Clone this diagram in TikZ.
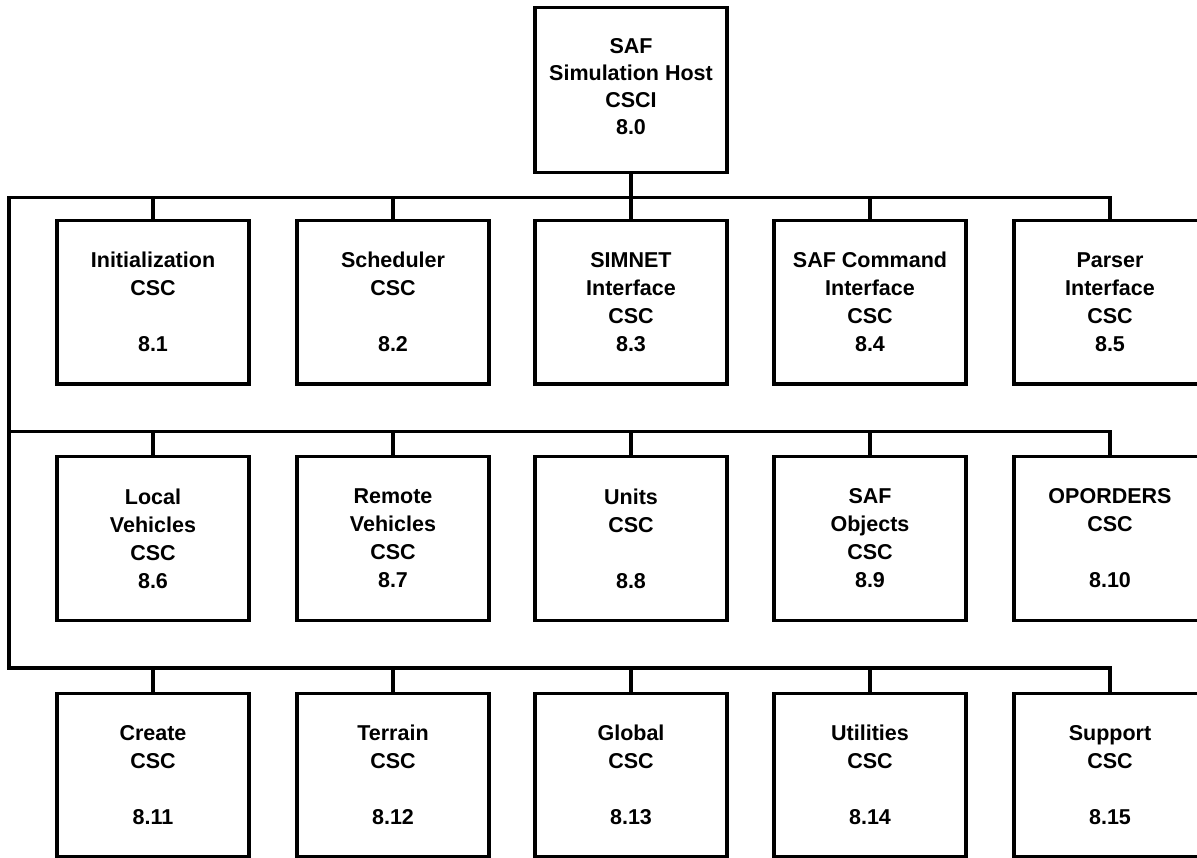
\documentclass[tikz,border=0pt]{standalone}
\usepackage{fontspec}
\setmainfont{Liberation Sans}
\begin{document}
\begin{tikzpicture}[x=1pt,y=-1pt,
  box/.style={draw, line width=3.5pt, minimum width=192pt, inner sep=0pt,
    align=center, font=\fontsize{21.5}{28}\bfseries\selectfont},
  link/.style={line width=3.5pt, line join=miter}]
\useasboundingbox (0,0) rectangle (1197,857);
% top
\node[box, minimum height=165pt, text depth=8pt, font=\fontsize{21.5}{27}\bfseries\selectfont] (top) at (631,90)
  {SAF\\Simulation Host\\CSCI\\8.0};
% row 1
\node[box, minimum height=163.5pt] (p1) at (153,302) {Initialization\\CSC\\[28pt]8.1};
\node[box, minimum height=163.5pt] (p2) at (393,302) {Scheduler\\CSC\\[28pt]8.2};
\node[box, minimum height=163.5pt] (p3) at (631,302) {SIMNET\\Interface\\CSC\\8.3};
\node[box, minimum height=163.5pt] (p4) at (870,302) {SAF Command\\Interface\\CSC\\8.4};
\node[box, minimum height=163.5pt] (p5) at (1110,302) {Parser\\Interface\\CSC\\8.5};
% row 2
\node[box, minimum height=164pt] (q1) at (153,538.5) {Local\\Vehicles\\CSC\\8.6};
\node[box, minimum height=164pt] (q2) at (393,538.5) {Remote\\Vehicles\\CSC\\8.7};
\node[box, minimum height=164pt] (q3) at (631,538.5) {Units\\CSC\\[28pt]8.8};
\node[box, minimum height=164pt] (q4) at (870,538.5) {SAF\\Objects\\CSC\\8.9};
\node[box, minimum height=164pt] (q5) at (1110,538.5) {OPORDERS\\CSC\\[28pt]8.10};
% row 3
\node[box, minimum height=163.5pt] (r1) at (153,775.25) {Create\\CSC\\[28pt]8.11};
\node[box, minimum height=163.5pt] (r2) at (393,775.25) {Terrain\\CSC\\[28pt]8.12};
\node[box, minimum height=163.5pt] (r3) at (631,775.25) {Global\\CSC\\[28pt]8.13};
\node[box, minimum height=163.5pt] (r4) at (870,775.25) {Utilities\\CSC\\[28pt]8.14};
\node[box, minimum height=163.5pt] (r5) at (1110,775.25) {Support\\CSC\\[28pt]8.15};
% buses
\coordinate (b1L) at (9,197.5);
\coordinate (b2L) at (9,431.5);
\coordinate (b3L) at (9,668);
\draw[link] (top.south) -- (top.south |- b1L);
\draw[link] (p5.north) -- (p5.north |- b1L) -- (b1L) -- (b3L) -- (r5.north |- b3L) -- (r5.north);
\draw[link] (b2L) -- (q5.north |- b2L) -- (q5.north);
\foreach \n in {1,2,3,4}{
  \draw[link] (p\n.north) -- (p\n.north |- b1L);
  \draw[link] (q\n.north) -- (q\n.north |- b2L);
  \draw[link] (r\n.north) -- (r\n.north |- b3L);
}
\end{tikzpicture}
\end{document}
